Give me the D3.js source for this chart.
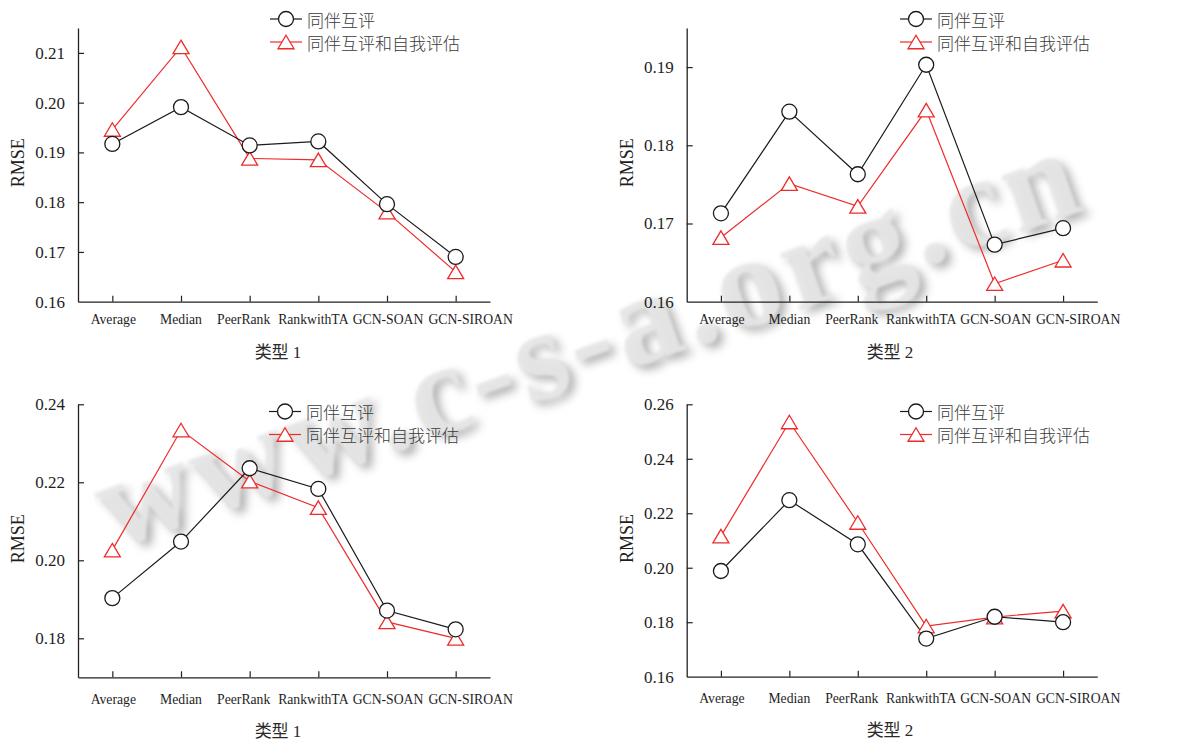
<!DOCTYPE html>
<html>
<head>
<meta charset="utf-8">
<script src="https://cdn.jsdelivr.net/npm/d3@7"></script>
<style>
  html, body { margin: 0; padding: 0; background: #fff; }
  svg { display: block; }
</style>
</head>
<body>
<svg id="chart" width="1203" height="740"></svg>
<script>
// Methods compared on each panel's x axis
const categories = ["Average", "Median", "PeerRank", "RankwithTA", "GCN-SOAN", "GCN-SIROAN"];
const seriesNames = ["同伴互评", "同伴互评和自我评估"];

// RMSE per method, two settings per panel
const peer1     = [0.1917, 0.1991, 0.1914, 0.1922, 0.1796, 0.1690];
const peerSelf1 = [0.1946, 0.2112, 0.1888, 0.1885, 0.1780, 0.1660];
const peer2     = [0.1713, 0.1843, 0.1763, 0.1903, 0.1673, 0.1694];
const peerSelf2 = [0.1682, 0.1751, 0.1722, 0.1845, 0.1623, 0.1653];
const peer3     = [0.1903, 0.2048, 0.2236, 0.2183, 0.1871, 0.1823];
const peerSelf3 = [0.2026, 0.2334, 0.2203, 0.2135, 0.1842, 0.1800];
const peer4     = [0.1988, 0.2248, 0.2086, 0.1740, 0.1820, 0.1800];
const peerSelf4 = [0.2116, 0.2535, 0.2166, 0.1786, 0.1819, 0.1841];

// y tick labels per panel
const ticks1 = [0.16, 0.17, 0.18, 0.19, 0.20, 0.21];
const ticks2 = [0.16, 0.17, 0.18, 0.19];
const ticks3 = [0.18, 0.20, 0.22, 0.24];
const ticks4 = [0.16, 0.18, 0.20, 0.22, 0.24, 0.26];

const panelTitles = ["类型 1", "类型 2", "类型 1", "类型 2"];
const yTitle = "RMSE";

// ---- layout ----
const panels = [
  { peer: peer1, self: peerSelf1, ticks: ticks1, domain: [0.16, 0.215], title: panelTitles[0],
    x0: 78, x1: 490, yTop: 28, yBot: 301.7, legX: 270, legY: 19, labPad: 13, titleDy: 56, titleX: 278 },
  { peer: peer2, self: peerSelf2, ticks: ticks2, domain: [0.16, 0.195], title: panelTitles[1],
    x0: 686.7, x1: 1097.3, yTop: 28, yBot: 301.7, legX: 900, legY: 19, labPad: 13, titleDy: 56, titleX: 890 },
  { peer: peer3, self: peerSelf3, ticks: ticks3, domain: [0.17, 0.24], title: panelTitles[2],
    x0: 78, x1: 490, yTop: 404.3, yBot: 677.3, legX: 269, legY: 411.5, labPad: 17, titleDy: 59.5, titleX: 278 },
  { peer: peer4, self: peerSelf4, ticks: ticks4, domain: [0.16, 0.26], title: panelTitles[3],
    x0: 686.7, x1: 1097.3, yTop: 404.3, yBot: 676.7, legX: 900, legY: 411.5, labPad: 17, titleDy: 59.5, titleX: 890 }
];
// horizontal nudges of the category labels so the long names don't collide
const labelNudge = [0.5, -0.5, -6.5, -5.5, 0.5, 14.5];

const serif = "'Liberation Serif', 'Times New Roman', serif";
const cjk = "'Noto Sans CJK SC', 'Noto Sans', sans-serif";
const black = "#1a1a1a";
const red = "#ee2b2b";
const triW = 16, triH = 13.5;
const triPath = `M0,${-triH / 2}L${triW / 2},${triH / 2}L${-triW / 2},${triH / 2}Z`;

const svg = d3.select("#chart");

// ---- site watermark, blurred with a soft drop shadow ----
const defs = svg.append("defs");
defs.append("filter").attr("id", "wmShadow").attr("x", "-10%").attr("y", "-30%").attr("width", "120%").attr("height", "160%")
  .append("feGaussianBlur").attr("stdDeviation", 5);
defs.append("filter").attr("id", "wmFace").attr("x", "-10%").attr("y", "-30%").attr("width", "120%").attr("height", "160%")
  .append("feGaussianBlur").attr("stdDeviation", 1.6);

const wm = svg.append("g").attr("transform", "translate(600,380) rotate(-19.3)");
const wmText = "www.c-s-a.org.cn";
wm.append("text")
  .attr("x", 4).attr("y", 6)
  .attr("text-anchor", "middle")
  .attr("textLength", 1030).attr("lengthAdjust", "spacing")
  .style("font-family", serif).style("font-weight", "bold").style("font-size", "130px")
  .attr("fill", "#6e6e6e").attr("opacity", 0.55)
  .attr("filter", "url(#wmShadow)")
  .text(wmText);
wm.append("text")
  .attr("x", 0).attr("y", 0)
  .attr("text-anchor", "middle")
  .attr("textLength", 1030).attr("lengthAdjust", "spacing")
  .style("font-family", serif).style("font-weight", "bold").style("font-size", "130px")
  .attr("fill", "#e6e6e6").attr("opacity", 0.95)
  .attr("filter", "url(#wmFace)")
  .text(wmText);

// ---- panels ----
panels.forEach(p => {
  const g = svg.append("g");
  const x = d3.scalePoint().domain(categories).range([p.x0, p.x1]).padding(0.5);
  const y = d3.scaleLinear().domain(p.domain).range([p.yBot, p.yTop]);

  // y axis
  const ya = g.append("g").attr("transform", `translate(${p.x0},0)`)
    .call(d3.axisLeft(y).tickValues(p.ticks).tickFormat(d3.format(".2f"))
      .tickSizeInner(-6).tickSizeOuter(0).tickPadding(13));
  // x axis
  const xa = g.append("g").attr("transform", `translate(0,${p.yBot})`)
    .call(d3.axisBottom(x).tickSizeInner(-6).tickSizeOuter(0).tickPadding(p.labPad));

  [ya, xa].forEach(a => {
    a.select(".domain").attr("stroke", "#222").attr("stroke-width", 1.3);
    a.selectAll(".tick line").attr("stroke", "#222").attr("stroke-width", 1.2);
    a.selectAll(".tick text").attr("fill", "#1e1e1e").style("font-family", serif);
  });
  ya.selectAll(".tick text").style("font-size", "17px");
  xa.selectAll(".tick text").style("font-size", "13.7px")
    .attr("dx", (d, i) => labelNudge[i]);
  ya.selectAll(".tick").filter(d => d === p.domain[0]).select("line").remove();

  // axis titles
  g.append("text")
    .attr("transform", `translate(${p.x0 - 54},${(p.yTop + p.yBot) / 2 - 2}) rotate(-90)`)
    .attr("text-anchor", "middle")
    .style("font-family", serif).style("font-size", "18px").attr("fill", "#1e1e1e")
    .text(yTitle);
  g.append("text")
    .attr("x", p.titleX).attr("y", p.yBot + p.titleDy)
    .attr("text-anchor", "middle")
    .style("font-family", `'Liberation Serif', 'Noto Sans CJK SC', serif`).style("font-size", "17px")
    .attr("fill", "#2a2a2a")
    .text(p.title);

  const line = d3.line().x((d, i) => x(categories[i])).y(d => y(d));

  // 同伴互评和自我评估 series (red, triangles)
  g.append("path").datum(p.self).attr("d", line)
    .attr("fill", "none").attr("stroke", red).attr("stroke-width", 1.2);
  // 同伴互评 series (black, circles)
  g.append("path").datum(p.peer).attr("d", line)
    .attr("fill", "none").attr("stroke", black).attr("stroke-width", 1.2);

  g.selectAll(".tri").data(p.self).enter().append("path")
    .attr("transform", (d, i) => `translate(${x(categories[i])},${y(d)})`)
    .attr("d", triPath)
    .attr("fill", "#fff").attr("stroke", red).attr("stroke-width", 1.3);
  g.selectAll(".dot").data(p.peer).enter().append("circle")
    .attr("cx", (d, i) => x(categories[i])).attr("cy", d => y(d)).attr("r", 7.5)
    .attr("fill", "#fff").attr("stroke", black).attr("stroke-width", 1.3);

  // legend
  const leg = g.append("g").attr("transform", `translate(${p.legX},${p.legY})`);
  const rows = [
    { name: seriesNames[0], color: black, shape: "circle" },
    { name: seriesNames[1], color: red, shape: "tri" }
  ];
  rows.forEach((r, k) => {
    const ry = k * 23;
    leg.append("line").attr("x1", 0).attr("x2", 32).attr("y1", ry).attr("y2", ry)
      .attr("stroke", r.color).attr("stroke-width", 1.2);
    if (r.shape === "circle") {
      leg.append("circle").attr("cx", 16).attr("cy", ry).attr("r", 7.5)
        .attr("fill", "#fff").attr("stroke", r.color).attr("stroke-width", 1.3);
    } else {
      leg.append("path").attr("transform", `translate(16,${ry})`).attr("d", triPath)
        .attr("fill", "#fff").attr("stroke", r.color).attr("stroke-width", 1.3);
    }
    leg.append("text").attr("x", 37).attr("y", ry).attr("dominant-baseline", "central")
      .style("font-family", cjk).style("font-size", "17px").style("font-weight", 300)
      .attr("fill", "#3a3a3a")
      .text(r.name);
  });
});
</script>
</body>
</html>
